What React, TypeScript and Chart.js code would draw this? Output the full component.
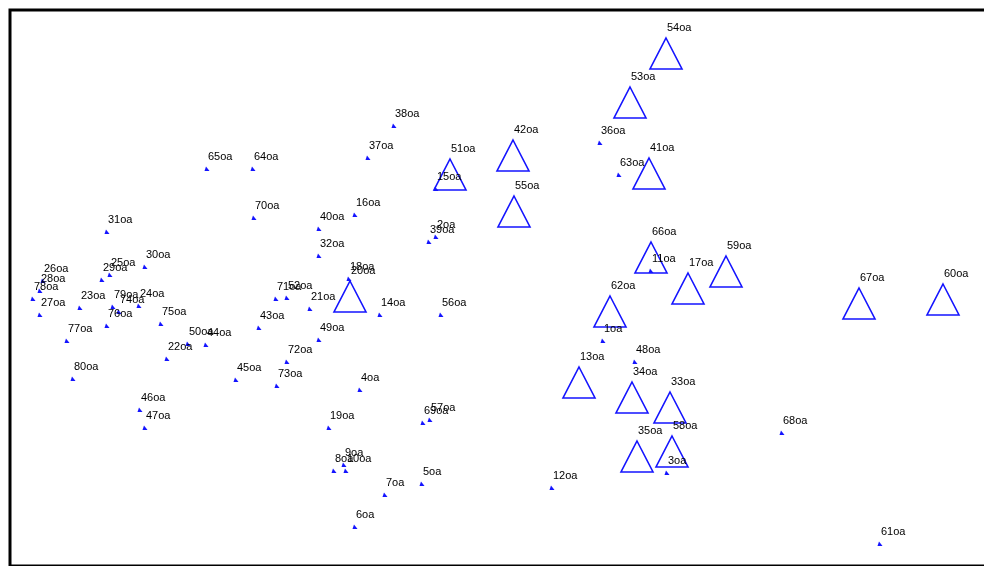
import React, { useEffect, useRef } from "react";
import { Chart, registerables } from "chart.js";

Chart.register(...registerables);

// Small markers (filled) — label text and position in plot units
const smallLabels = [
  "1oa", "2oa", "3oa", "4oa", "5oa", "6oa", "7oa", "8oa", "9oa", "10oa",
  "11oa", "12oa", "14oa", "15oa", "16oa", "18oa", "19oa", "21oa", "22oa", "23oa",
  "24oa", "25oa", "26oa", "27oa", "28oa", "29oa", "30oa", "31oa", "32oa", "36oa",
  "37oa", "38oa", "39oa", "40oa", "43oa", "44oa", "45oa", "46oa", "47oa", "48oa",
  "49oa", "50oa", "52oa", "56oa", "57oa", "61oa", "63oa", "64oa", "65oa", "68oa",
  "69oa", "70oa", "71oa", "72oa", "73oa", "74oa", "75oa", "76oa", "77oa", "78oa",
  "79oa", "80oa",
];
const smallX = [
  603, 436, 667, 360, 422, 355, 385, 334, 344, 346,
  651, 552, 380, 436, 355, 349, 329, 310, 167, 80,
  139, 110, 43, 40, 40, 102, 145, 107, 319, 600,
  368, 394, 429, 319, 259, 206, 236, 140, 145, 635,
  319, 188, 287, 441, 430, 880, 619, 253, 207, 782,
  423, 254, 276, 287, 277, 119, 161, 107, 67, 33,
  113, 73,
];
const smallY = [
  341, 237, 473, 390, 484, 527, 495, 471, 465, 471,
  271, 488, 315, 189, 215, 279, 428, 309, 359, 308,
  306, 275, 281, 315, 291, 280, 267, 232, 256, 143,
  158, 126, 242, 229, 328, 345, 380, 410, 428, 362,
  340, 344, 298, 315, 420, 544, 175, 169, 169, 433,
  423, 218, 299, 362, 386, 312, 324, 326, 341, 299,
  307, 379,
];

// Large open triangles — apex position in plot units
const bigLabels = [
  "13oa", "17oa", "20oa", "33oa", "34oa", "35oa", "41oa", "42oa", "51oa",
  "53oa", "54oa", "55oa", "58oa", "59oa", "60oa", "62oa", "66oa", "67oa",
];
const bigX = [579, 688, 350, 670, 632, 637, 649, 513, 450, 630, 666, 514, 672, 726, 943, 610, 651, 859];
const bigY = [367, 273, 281, 392, 382, 441, 158, 140, 159, 87, 38, 196, 436, 256, 284, 296, 242, 288];

const xRange = [0, 984];
const yRange = [0, 566];

const BLUE = "rgb(20,20,255)";

function makeBigTriangle(): HTMLCanvasElement {
  const c = document.createElement("canvas");
  c.width = 36;
  c.height = 66;
  const ctx = c.getContext("2d")!;
  ctx.strokeStyle = BLUE;
  ctx.lineWidth = 1.6;
  ctx.beginPath();
  ctx.moveTo(18, 33);
  ctx.lineTo(34, 64);
  ctx.lineTo(2, 64);
  ctx.closePath();
  ctx.stroke();
  return c;
}

function makeSmallMarker(): HTMLCanvasElement {
  const c = document.createElement("canvas");
  c.width = 6;
  c.height = 6;
  const ctx = c.getContext("2d")!;
  ctx.fillStyle = BLUE;
  ctx.beginPath();
  ctx.moveTo(2, 0.5);
  ctx.lineTo(5.5, 5);
  ctx.lineTo(0.5, 5);
  ctx.closePath();
  ctx.fill();
  return c;
}

const labelPlugin = {
  id: "pointLabels",
  afterDatasetsDraw(chart: any) {
    const ctx = chart.ctx;
    ctx.save();
    ctx.font = "11px 'Liberation Sans', Arial, sans-serif";
    ctx.fillStyle = "#000";
    ctx.textBaseline = "middle";
    ctx.textAlign = "left";
    chart.data.datasets.forEach((ds: any, i: number) => {
      const meta = chart.getDatasetMeta(i);
      meta.data.forEach((pt: any, j: number) => {
        ctx.fillText(ds.pointLabels[j], pt.x + 1, pt.y + ds.labelDy);
      });
    });
    ctx.restore();
  },
};

const framePlugin = {
  id: "frame",
  afterDraw(chart: any) {
    const ctx = chart.ctx;
    ctx.save();
    ctx.strokeStyle = "#000";
    ctx.lineWidth = 3;
    ctx.strokeRect(10, 10, 1000, 556);
    ctx.restore();
  },
};

export default function App() {
  const ref = useRef<HTMLCanvasElement | null>(null);
  useEffect(() => {
    if (!ref.current) return;
    const tri = makeBigTriangle();
    const small = makeSmallMarker();
    const chart = new Chart(ref.current, {
      type: "scatter",
      data: {
        datasets: [
          {
            data: smallX.map((x, i) => ({ x, y: smallY[i] })),
            pointStyle: small,
            radius: 3,
            backgroundColor: BLUE,
            borderColor: BLUE,
            borderWidth: 0,
            clip: false,
            pointLabels: smallLabels,
            labelDy: -12,
          } as any,
          {
            data: bigX.map((x, i) => ({ x, y: bigY[i] })),
            pointStyle: tri,
            radius: 18,
            backgroundColor: "rgba(0,0,0,0)",
            borderColor: BLUE,
            clip: false,
            pointLabels: bigLabels,
            labelDy: -10,
          } as any,
        ],
      },
      options: {
        animation: false,
        responsive: false,
        maintainAspectRatio: false,
        layout: { padding: 0, autoPadding: false },
        plugins: { legend: { display: false }, tooltip: { enabled: false } },
        scales: {
          x: { type: "linear", display: false, min: xRange[0], max: xRange[1] },
          y: { type: "linear", display: false, min: yRange[0], max: yRange[1], reverse: true },
        },
      },
      plugins: [labelPlugin, framePlugin],
    });
    return () => chart.destroy();
  }, []);
  return (
    <div style={{ position: "fixed", left: 0, top: 0, width: 984, height: 566, background: "#fff" }}>
      <canvas ref={ref} width={984} height={566} style={{ display: "block", width: 984, height: 566 }} />
    </div>
  );
}
